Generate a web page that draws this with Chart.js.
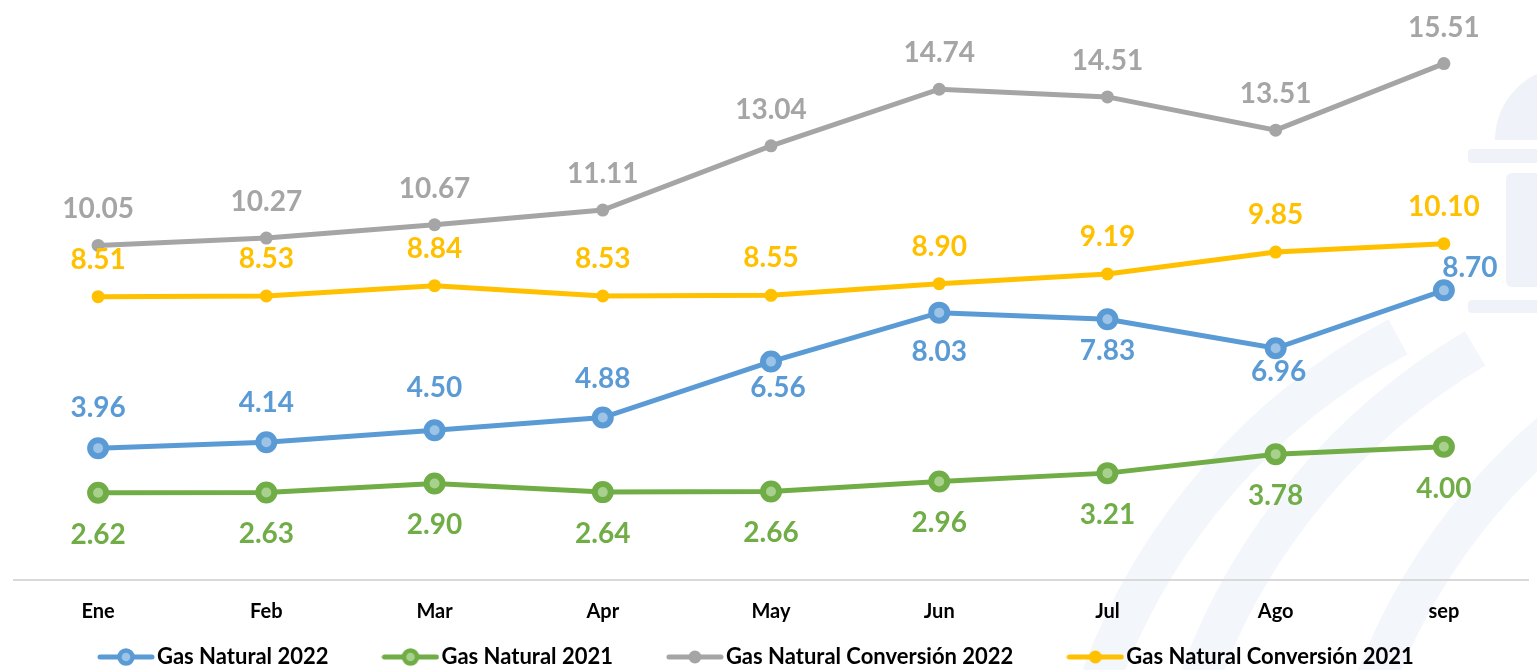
<!DOCTYPE html>
<html><head><meta charset="utf-8">
<script src="https://cdn.jsdelivr.net/npm/chart.js@4/dist/chart.umd.min.js"></script>
<style>
html,body{margin:0;padding:0;background:#fff;overflow:hidden;width:1537px;height:670px}
#wrap{position:absolute;left:0;top:0;width:1542px;height:670px}
</style></head><body><div id="wrap"><canvas id="c"></canvas></div>
<script>
// ---- data ----
const months = ['Ene','Feb','Mar','Apr','May','Jun','Jul','Ago','sep'];
const gasNatural2022 = [3.96,4.14,4.50,4.88,6.56,8.03,7.83,6.96,8.70];
const gasNatural2021 = [2.62,2.63,2.90,2.64,2.66,2.96,3.21,3.78,4.00];
const gasNaturalConversion2022 = [10.05,10.27,10.67,11.11,13.04,14.74,14.51,13.51,15.51];
const gasNaturalConversion2021 = [8.51,8.53,8.84,8.53,8.55,8.90,9.19,9.85,10.10];
const seriesNames = ['Gas Natural 2022','Gas Natural 2021','Gas Natural Conversión 2022','Gas Natural Conversión 2021'];

// ---- styles ----
const BLUE='#5B9BD5', GREEN='#70AD47', GRAY='#A5A5A5', YELLOW='#FFC000';
const blueLabelOffsets = [[0,-40],[0,-39],[0,-42],[0,-39],[7,26],[0,39],[0,32],[3,24],[26,-22]];
const greenLabelOffsets = months.map(()=>[0,42]);
const grayLabelOffsets = months.map(()=>[0,-36]);
const yellowLabelOffsets = months.map(()=>[0,-37]);
const X_AXIS_H = 46, LEGEND_H = 670 - 580 - 46;

function legendIcon(color, inner, r, lw){
  const c=document.createElement('canvas'); c.width=58; c.height=22;
  const x=c.getContext('2d');
  x.strokeStyle=color; x.lineWidth=5; x.lineCap='round';
  x.beginPath(); x.moveTo(3,11); x.lineTo(55,11); x.stroke();
  x.beginPath(); x.arc(29,11,r,0,Math.PI*2);
  x.fillStyle=inner||color; x.fill();
  if(lw){ x.lineWidth=lw; x.strokeStyle=color; x.stroke(); }
  return c;
}
const icons=[legendIcon(BLUE,'#9DC3E6',6.5,4.5),legendIcon(GREEN,'#A9D18E',6.5,4.5),legendIcon(GRAY,null,6.5,0),legendIcon(YELLOW,null,6.5,0)];

const watermark={id:'watermark',beforeDraw(chart){
  const ctx=chart.ctx; ctx.save();
  ctx.fillStyle='#EFF3F9';
  ctx.beginPath(); ctx.arc(1568,140,73,Math.PI,Math.PI*1.5); ctx.lineTo(1568,140); ctx.closePath(); ctx.fill();
  const rr=(x,y,w,h,r)=>{ctx.beginPath();ctx.roundRect(x,y,w,h,r);ctx.fill();};
  rr(1468,149,90,14,4);
  rr(1506,173,50,114,6);
  rr(1468,300,90,13,4);
  ctx.strokeStyle='#F3F6FA'; ctx.lineWidth=40; ctx.lineCap='butt';
  [[1700,900,639,3.50,4.22],[1800,900,640,3.50,4.18],[1950,900,615,3.50,4.10]].forEach(([cx,cy,r,a0,a1])=>{
    ctx.beginPath(); ctx.arc(cx,cy,r,a0,a1); ctx.stroke();
  });
  ctx.restore();
}};

const offsetsBySet=[blueLabelOffsets,greenLabelOffsets,grayLabelOffsets,yellowLabelOffsets];
const dataLabels={id:'dataLabels',afterDatasetsDraw(chart){
  const ctx=chart.ctx; ctx.save();
  ctx.font='bold 28px Lato'; ctx.textAlign='center'; ctx.textBaseline='middle';
  chart.data.datasets.forEach((ds,i)=>{
    const meta=chart.getDatasetMeta(i);
    ctx.fillStyle=ds.borderColor;
    meta.data.forEach((pt,j)=>{
      const [dx,dy]=offsetsBySet[i][j];
      ctx.fillText(ds.data[j].toFixed(2),pt.x+dx,pt.y+dy);
    });
  });
  ctx.restore();
}};

const legendPlace={id:'legendPlace',
  beforeLayout(chart){
    const lg=chart.legend;
    if(lg && !lg._fixedFit){
      const f=lg.fit.bind(lg);
      lg.fit=function(){ f(); this.height=LEGEND_H; };
      lg._fixedFit=true;
    }
  },
  afterLayout(chart){
    const lg=chart.legend; if(!lg||!lg.lineWidths) return;
    const P=lg.options.labels.padding;
    const start=(lg.left+P+lg.right-lg.lineWidths[0])/2;
    const shift=106-start;
    lg.left+=shift; lg.right+=shift;
    lg.top=657-11-P; lg.bottom=670; lg.height=lg.bottom-lg.top;
  }
};

new Chart(document.getElementById('c'),{
  type:'line',
  data:{labels:months,datasets:[
    {label:seriesNames[0],data:gasNatural2022,borderColor:BLUE,backgroundColor:'#9DC3E6',borderWidth:5,pointRadius:8,pointBorderWidth:6,pointBackgroundColor:'#9DC3E6',pointBorderColor:BLUE},
    {label:seriesNames[1],data:gasNatural2021,borderColor:GREEN,backgroundColor:'#A9D18E',borderWidth:5,pointRadius:8,pointBorderWidth:6,pointBackgroundColor:'#A9D18E',pointBorderColor:GREEN},
    {label:seriesNames[2],data:gasNaturalConversion2022,borderColor:GRAY,backgroundColor:GRAY,borderWidth:5,pointRadius:6.5,pointBorderWidth:0,pointBackgroundColor:GRAY},
    {label:seriesNames[3],data:gasNaturalConversion2021,borderColor:YELLOW,backgroundColor:YELLOW,borderWidth:5,pointRadius:6.5,pointBorderWidth:0,pointBackgroundColor:YELLOW}
  ]},
  options:{
    responsive:true,maintainAspectRatio:false,animation:false,
    layout:{padding:{left:12,right:0,top:13,bottom:0}},
    scales:{
      x:{offset:true,grid:{display:false},border:{display:true,color:'#D9D9D9',width:2},
        ticks:{color:'#000',font:{family:'Lato',weight:'bold',size:20,lineHeight:1.2},padding:12},
        afterFit(s){ s.height=X_AXIS_H; }},
      y:{display:false,min:0,max:17}
    },
    plugins:{
      tooltip:{enabled:false},
      legend:{position:'bottom',
        labels:{usePointStyle:true,pointStyleWidth:40,padding:62,color:'#000',font:{family:'Lato',weight:'bold',size:22},
        generateLabels(chart){return chart.data.datasets.map((d,i)=>({text:d.label,pointStyle:icons[i],fillStyle:d.borderColor,strokeStyle:d.borderColor,lineWidth:0,datasetIndex:i,hidden:false,fontColor:'#000'}));}}}
    }
  },
  plugins:[watermark,dataLabels,legendPlace]
});
</script></body></html>
